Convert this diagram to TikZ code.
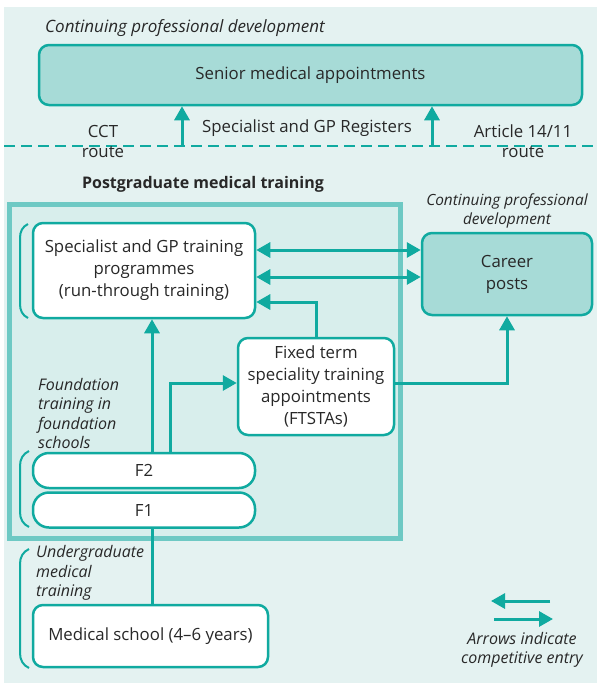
\documentclass[tikz,border=0pt]{standalone}
\usepackage{fontspec}
\setmainfont{Open Sans}
\usetikzlibrary{positioning,arrows.meta}
\definecolor{medteal}{RGB}{16,170,160}
\definecolor{medfill}{RGB}{167,219,215}
\definecolor{medbg}{RGB}{228,242,241}
\definecolor{medinner}{RGB}{216,238,236}
\definecolor{medframe}{RGB}{110,201,196}
\definecolor{medtext}{RGB}{40,40,40}
\begin{document}
\begin{tikzpicture}[x=1pt, y=-1pt, node distance={2pt}, font=\fontsize{16.8}{22}\selectfont, text=medtext,
  box/.style = {draw=medteal, line width=2.5pt, rounded corners=10pt, fill=white, align=center, inner sep=0pt},
  dark/.style = {box, fill=medfill},
  fbox/.style = {box, rounded corners=16pt, minimum width=222pt, minimum height=35pt},
  note/.style = {font=\fontsize{16}{19.5}\selectfont\itshape, align=left, inner sep=0pt},
  arr/.style = {draw=medteal, line width=3pt, -{Triangle[length=14pt,width=15pt]}},
  dbl/.style = {arr, {Triangle[length=14pt,width=15pt]}-{Triangle[length=14pt,width=15pt]}},
  brk/.style = {draw=medteal, line width=2pt}]
\useasboundingbox (0,0) rectangle (597,683);
\fill[medbg] (4,7) rectangle (597,683);

\node[note, anchor=west, font=\fontsize{17}{19.5}\selectfont\itshape] (cpd) at (45,28) {Continuing professional development};
\node[dark, minimum width=543pt, minimum height=60pt] (senior) at (310.5,75) {Senior medical appointments};
\draw[medteal, line width=2.5pt, dash pattern=on 11pt off 6pt] (4,146) -- (597,146);
\coordinate (cctarr) at (182,146);
\coordinate (artarr) at (432,146);
\draw[arr] (cctarr) -- (cctarr |- senior.south);
\draw[arr] (artarr) -- (artarr |- senior.south);
\node (reg) at (307,128) {Specialist and GP Registers};
\node[align=center, inner sep=0pt, font=\fontsize{16.8}{20}\selectfont] (cct) at (103,141) {CCT\\route};
\node[align=center, inner sep=0pt, font=\fontsize{16.8}{20}\selectfont] (art) at (523,141) {Article 14/11\\route};

\node[font=\fontsize{16}{19}\selectfont\bfseries] (pgt) at (203,184) {Postgraduate medical training};
\node[draw=medframe, fill=medinner, line width=5pt, minimum width=390.5pt, minimum height=334pt] (pg) at (204.75,371) {};
\node[note, align=center, font=\fontsize{15.4}{18.5}\selectfont\itshape] (cpd2) at (507,211) {Continuing professional\\development};

\node[box, minimum width=222pt, minimum height=95pt] (spec) at (144,270.5) {Specialist and GP training\\programmes\\(run-through training)};
\node[dark, minimum width=170pt, minimum height=82pt] (career) at (507,274) {Career\\posts};
\node[box, minimum width=156pt, minimum height=97pt] (ftsta) at (316,386.5) {Fixed term\\speciality training\\appointments\\(FTSTAs)};
\node[fbox] (f2) at (144,470.5) {F2};
\node[fbox] (f1) [below=of f2] {F1};
\node[box, minimum width=235pt, minimum height=62pt] (med) at (150.5,636) {Medical school (4--6 years)};

\node[note, anchor=west] (found) at (38,413.5) {Foundation\\training in\\foundation\\schools};
\node[note, anchor=west] (ugrad) at (36,573) {Undergraduate\\medical\\training};
\node[note, align=center] (legend) at (522,650) {Arrows indicate\\competitive entry};

\draw[dbl] ([yshift=20.5pt]spec.east) -- ([yshift=20.5pt]spec.east -| career.west);
\draw[dbl] ([yshift=-6.5pt]spec.east) -- ([yshift=-6.5pt]spec.east -| career.west);
\draw[arr] ([xshift=8pt]f2.north) -- ([xshift=8pt]spec.south);
\draw[arr] ([xshift=26pt]f2.north) |- ([yshift=3.5pt]ftsta.west);
\draw[arr] (ftsta.north) |- ([yshift=-31.5pt]spec.east);
\draw[arr] ([yshift=3.5pt]ftsta.east) -| (career.south);
\draw[medteal, line width=3pt] ([xshift=8pt]f1.south) -- ([xshift=1.5pt]med.north);

\coordinate (lgl) at (491,601);
\coordinate (lgr) at (553,619);
\draw[arr] (lgl -| lgr) ++(-3,0) -- (lgl);
\draw[arr] (lgr -| lgl) ++(3,0) -- (lgr);

\draw[brk] (28,224) to[out=205,in=90] (20,238) -- (20,304) to[out=-90,in=155] (28,318);
\draw[brk] (29,451) to[out=205,in=90] (20,466) -- (20,512) to[out=-90,in=155] (29,527);
\draw[brk] (29,549) to[out=205,in=90] (20,564) -- (20,653) to[out=-90,in=155] (29,668);
\end{tikzpicture}
\end{document}
